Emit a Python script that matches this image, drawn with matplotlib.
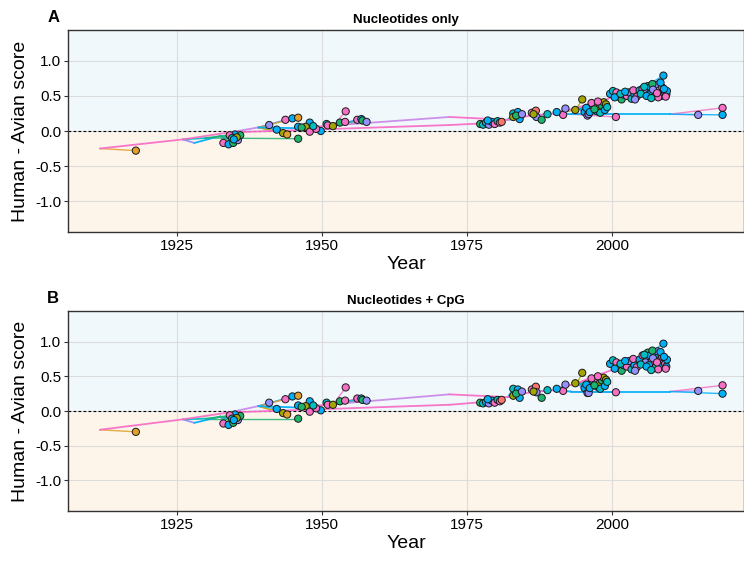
"""Root-to-tip style tree of Human - Avian scores over time, two panels."""

import matplotlib
matplotlib.use("Agg")
import matplotlib.pyplot as plt

plt.rcParams["font.family"] = ["Liberation Sans", "DejaVu Sans"]

# clade colours
O = "#E0A02A"
OL = "#A3A500"
G = "#1DB46E"
T = "#00BFC4"
C = "#00B0F6"
L = "#9590FF"
P = "#F86FC6"
V = "#C98BE8"
S = "#F8766D"

# internal nodes
NODE_NAMES = ["r", "a1", "a2", "a3", "a4", "a5", "a6", "a7", "a8", "a9",
              "a11", "a12", "a13", "a14", "a15", "a16", "a17", "a18", "a19", "a20",
              "b1", "b2"]
NODE_YEAR = [1911.7, 1926.0, 1928.0, 1932.5, 1934.0, 1939.0, 1946.0, 1952.0, 1972.0, 1972.0,
             1978.0, 1982.0, 1986.0, 1990.0, 1994.0, 1997.0, 2001.0, 2004.0, 1993.0, 2010.0,
             1930.0, 1936.0]
NODE_A = [-0.25, -0.12, -0.17, -0.07, -0.02, 0.05, 0.04, 0.08, 0.085, 0.20,
          0.11, 0.16, 0.22, 0.25, 0.33, 0.40, 0.50, 0.55, 0.24, 0.24,
          -0.10, -0.04]
NODE_B = [-0.27, -0.12, -0.17, -0.08, -0.02, 0.07, 0.05, 0.10, 0.09, 0.24,
          0.13, 0.20, 0.27, 0.30, 0.40, 0.50, 0.62, 0.70, 0.28, 0.28,
          -0.11, -0.05]
NODE_PARENT = [None, "r", "a1", "a2", "a1", "a4", "a5", "a6", "a4", "a7",
               "a8", "a9", "a12", "a13", "a14", "a15", "a16", "a17", "a14", "a19",
               "a1", "b1"]
NODE_COLOR = [P, P, L, C, P, V, C, P, P, V,
              P, P, P, P, P, P, P, P, C, C,
              T, G]

# tips
TIP_YEAR = [
    1917.9,
    1933.0, 1933.9, 1934.7, 1935.5, 1935.9, 1935.0, 1934.1, 1934.5, 1935.3, 1934.8, 1945.9,
    1940.9, 1943.7, 1944.9, 1945.9, 1942.2, 1943.3, 1944.0,
    1945.9, 1947.9, 1947.2, 1946.5, 1947.9, 1949.8, 1949.0, 1948.5,
    1950.8, 1951.0, 1951.9, 1953.1, 1954.0, 1954.1, 1956.1, 1956.8, 1957.0, 1957.7,
    1977.3, 1977.8, 1978.3, 1978.8, 1979.3, 1979.8, 1980.3, 1980.7, 1978.6, 1981.0,
    1983.0, 1983.8, 1983.0, 1984.1, 1983.5, 1984.5,
    1986.2, 1986.9, 1987.0, 1987.9, 1988.9, 1986.5,
    1991.6, 1992.0, 1993.7, 1990.5,
    1994.9, 1995.3, 1995.8, 1996.0, 1996.3, 1996.8, 1997.2, 1997.5, 1997.9, 1998.3,
    1998.6, 1999.0, 1998.0, 1996.5, 1995.6, 1996.2, 1997.0, 1998.8, 1997.6, 1999.2,
    2000.7, 2014.9, 2019.1, 2019.1,
    1999.7, 2000.2, 2000.8, 2001.2, 2001.7, 2002.0, 2002.6, 2003.0, 2003.4, 2003.9, 2004.3,
    2000.5, 2001.5, 2002.3, 2003.7, 2004.0,
    2004.8, 2005.3, 2005.8, 2006.2, 2006.6, 2006.9, 2007.3, 2007.6, 2007.9, 2008.2,
    2008.5, 2008.9, 2009.2, 2009.4, 2009.5, 2008.0, 2006.4, 2007.0, 2005.0, 2008.7,
    2005.6, 2006.0, 2007.1, 2007.8, 2008.4, 2009.0, 2009.3, 2006.8,
]
TIP_A = [
    -0.28,
    -0.17, -0.19, -0.17, -0.13, -0.06, -0.05, -0.06, -0.10, -0.09, -0.12, -0.11,
    0.085, 0.16, 0.18, 0.19, 0.02, -0.03, -0.05,
    0.06, 0.12, 0.06, 0.05, -0.01, 0.00, 0.03, 0.07,
    0.10, 0.08, 0.07, 0.12, 0.13, 0.28, 0.16, 0.17, 0.15, 0.13,
    0.10, 0.09, 0.12, 0.09, 0.13, 0.10, 0.14, 0.12, 0.15, 0.13,
    0.25, 0.27, 0.20, 0.17, 0.22, 0.24,
    0.26, 0.29, 0.20, 0.16, 0.24, 0.24,
    0.23, 0.32, 0.30, 0.27,
    0.45, 0.27, 0.22, 0.24, 0.30, 0.35, 0.38, 0.28, 0.33, 0.36,
    0.41, 0.38, 0.26, 0.40, 0.33, 0.27, 0.31, 0.30, 0.42, 0.34,
    0.20, 0.23, 0.33, 0.23,
    0.53, 0.57, 0.55, 0.49, 0.45, 0.52, 0.50, 0.55, 0.46, 0.52, 0.49,
    0.48, 0.53, 0.56, 0.58, 0.45,
    0.58, 0.60, 0.55, 0.64, 0.62, 0.56, 0.51, 0.62, 0.66, 0.58,
    0.50, 0.79, 0.55, 0.52, 0.57, 0.48, 0.52, 0.67, 0.53, 0.62,
    0.63, 0.50, 0.59, 0.54, 0.69, 0.60, 0.49, 0.47,
]
TIP_B = [
    -0.30,
    -0.18, -0.20, -0.17, -0.13, -0.07, -0.05, -0.06, -0.11, -0.10, -0.13, -0.11,
    0.12, 0.17, 0.21, 0.22, 0.03, -0.03, -0.05,
    0.08, 0.14, 0.07, 0.06, -0.01, 0.01, 0.04, 0.08,
    0.12, 0.09, 0.09, 0.14, 0.15, 0.34, 0.18, 0.18, 0.16, 0.15,
    0.12, 0.11, 0.13, 0.11, 0.15, 0.12, 0.16, 0.14, 0.17, 0.16,
    0.32, 0.31, 0.22, 0.19, 0.25, 0.28,
    0.31, 0.35, 0.27, 0.19, 0.30, 0.28,
    0.29, 0.38, 0.40, 0.32,
    0.55, 0.33, 0.26, 0.26, 0.36, 0.42, 0.46, 0.35, 0.40, 0.44,
    0.48, 0.45, 0.32, 0.47, 0.38, 0.33, 0.37, 0.36, 0.50, 0.42,
    0.27, 0.29, 0.37, 0.25,
    0.68, 0.73, 0.70, 0.62, 0.58, 0.66, 0.64, 0.72, 0.60, 0.66, 0.63,
    0.61, 0.68, 0.72, 0.75, 0.58,
    0.74, 0.80, 0.70, 0.84, 0.80, 0.72, 0.62, 0.82, 0.86, 0.72,
    0.65, 0.97, 0.68, 0.64, 0.74, 0.60, 0.66, 0.87, 0.67, 0.78,
    0.81, 0.64, 0.76, 0.70, 0.85, 0.78, 0.61, 0.59,
]
TIP_COLOR = [
    O,
    P, C, G, L, G, C, P, T, OL, C, G,
    L, P, C, O, C, OL, O,
    C, C, OL, G, P, C, P, T,
    T, P, OL, G, P, P, P, C, G, L,
    G, T, C, L, C, P, T, P, C, S,
    T, C, OL, C, G, L,
    P, S, L, G, T, OL,
    P, L, OL, C,
    OL, C, L, L, P, T, P, C, OL, G,
    OL, OL, T, P, C, C, G, C, P, T,
    P, L, P, C,
    C, T, P, OL, G, C, P, L, T, C, P,
    C, T, C, P, L,
    C, P, L, G, C, P, T, C, L, P,
    C, C, P, C, C, P, C, G, T, P,
    T, C, L, P, C, C, P, T,
]
TIP_PARENT = (
    ["r"]
    + ["a3"] * 4 + ["b2"] * 3 + ["a3"] * 3 + ["b1"]
    + ["a5"] * 7
    + ["a6"] * 8
    + ["a7"] * 10
    + ["a11"] * 10
    + ["a12"] * 6
    + ["a13"] * 6
    + ["a14"] * 4
    + ["a15"] * 20
    + ["a19", "a20", "a20", "a20"]
    + ["a17"] * 16
    + ["a18"] * 28
)

YEAR_TICKS = [1925, 1950, 1975, 2000]
SCORE_TICKS = [-1.0, -0.5, 0.0, 0.5, 1.0]


def draw_panel(ax, node_scores, tip_scores, letter, title):
    ylim = 1.44
    ax.axhspan(0, ylim, color="#F0F8FC", zorder=0, lw=0)
    ax.axhspan(-ylim, 0, color="#FDF4EA", zorder=0, lw=0)
    ax.set_axisbelow(True)
    ax.grid(color="#DCDCDC", lw=0.8)
    ax.axhline(0, color="black", ls=(0, (2.5, 2)), lw=0.8, zorder=1)

    pos = {n: (NODE_YEAR[i], node_scores[i]) for i, n in enumerate(NODE_NAMES)}

    # tip branches
    for yr, sc, col, par in zip(TIP_YEAR, tip_scores, TIP_COLOR, TIP_PARENT):
        px, py = pos[par]
        ax.plot([px, yr], [py, sc], color=col, lw=1.0, alpha=0.85, zorder=2)

    # internal branches, pink trunk on top
    for i, n in enumerate(NODE_NAMES):
        par = NODE_PARENT[i]
        if par is None:
            continue
        px, py = pos[par]
        ax.plot([px, NODE_YEAR[i]], [py, node_scores[i]], color=NODE_COLOR[i],
                lw=1.3, alpha=0.95, zorder=3 if NODE_COLOR[i] == P else 2.5,
                solid_capstyle="round")

    ax.scatter(TIP_YEAR, tip_scores, s=27, c=TIP_COLOR, edgecolors="#1a1a1a",
               linewidths=0.7, zorder=4)

    ax.set_xlim(1906.2, 2022.8)
    ax.set_ylim(-ylim, ylim)
    ax.set_xticks(YEAR_TICKS)
    ax.set_yticks(SCORE_TICKS)
    ax.set_yticklabels([f"{v:.1f}" for v in SCORE_TICKS])
    ax.tick_params(labelsize=11, length=3, color="#333333", pad=2)
    for side in ["left", "bottom", "top", "right"]:
        ax.spines[side].set_color("#333333")
        ax.spines[side].set_linewidth(1.0)
    ax.set_xlabel("Year", fontsize=14, labelpad=2)
    ax.set_ylabel("Human - Avian score", fontsize=14, labelpad=4)
    ax.set_title(title, fontsize=9.5, fontweight="bold", pad=5)
    ax.text(-0.022, 1.025, letter, transform=ax.transAxes, fontsize=12,
            fontweight="bold", ha="center", va="bottom")


fig = plt.figure(figsize=(7.44, 5.62), dpi=100)
ax_a = fig.add_axes([0.0914, 0.5872, 0.9086, 0.3594])
ax_b = fig.add_axes([0.0914, 0.0907, 0.9086, 0.3559])

draw_panel(ax_a, NODE_A, TIP_A, "A", "Nucleotides only")
draw_panel(ax_b, NODE_B, TIP_B, "B", "Nucleotides + CpG")

fig.savefig("out.png", dpi=100)
